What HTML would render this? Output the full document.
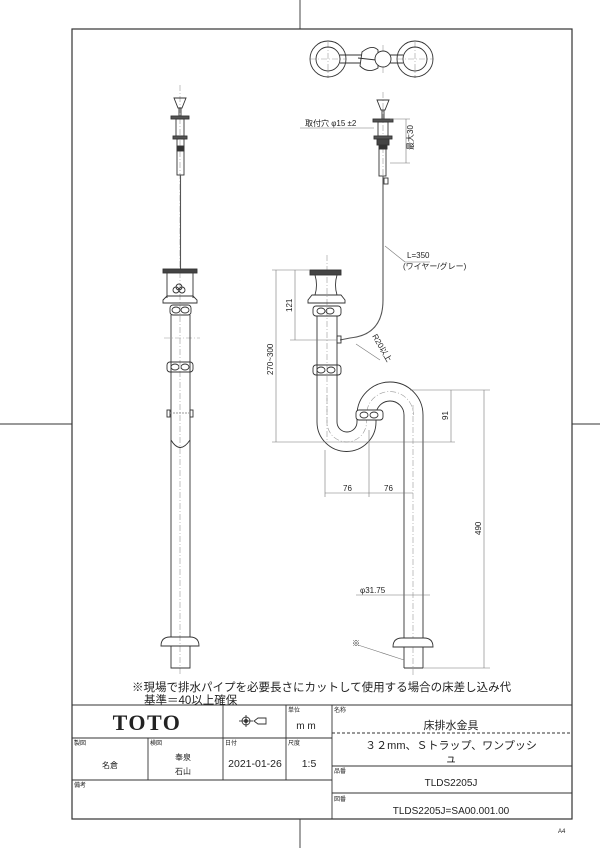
<!DOCTYPE html>
<html><head><meta charset="utf-8"><style>
html,body{margin:0;padding:0;background:#fff;}
svg{display:block;}
text{font-family:"Liberation Sans","Noto Sans CJK JP",sans-serif;fill:#222;}
</style></head><body>
<svg width="600" height="848" viewBox="0 0 600 848" xmlns="http://www.w3.org/2000/svg">
<g stroke="#333" fill="none" stroke-width="0.9">
<rect x="72" y="29" width="500" height="790" stroke-width="1.2"/>
<line x1="300" y1="0" x2="300" y2="29"/>
<line x1="300" y1="819" x2="300" y2="848"/>
<line x1="0" y1="424" x2="72" y2="424"/>
<line x1="572" y1="424" x2="600" y2="424"/>
<line x1="72" y1="705" x2="572" y2="705" stroke-width="1.1"/>
<line x1="72" y1="738" x2="332" y2="738"/>
<line x1="72" y1="780" x2="332" y2="780"/>
<line x1="332" y1="705" x2="332" y2="819"/>
<line x1="223" y1="705" x2="223" y2="780"/>
<line x1="286" y1="705" x2="286" y2="780"/>
<line x1="148" y1="738" x2="148" y2="780"/>
<line x1="332" y1="733" x2="572" y2="733" stroke-dasharray="3,2"/>
<line x1="332" y1="766" x2="572" y2="766"/>
<line x1="332" y1="793" x2="572" y2="793"/>
<circle cx="246" cy="721" r="4"/><circle cx="246" cy="721" r="1.5" fill="#333"/>
<line x1="239" y1="721" x2="253" y2="721"/><line x1="246" y1="715" x2="246" y2="727"/>
<path d="M254 721 L258 718 L266 718 L266 724 L258 724 Z"/>

<g stroke="#999" stroke-dasharray="6,2,1,2" stroke-width="0.6">
<line x1="180" y1="85" x2="180" y2="675"/>
<line x1="327" y1="255" x2="327" y2="440"/>
<line x1="383" y1="92" x2="383" y2="180"/>
<line x1="413" y1="405" x2="413" y2="675"/>
<line x1="328" y1="42" x2="328" y2="78"/><line x1="310" y1="59" x2="346" y2="59"/>
<line x1="415" y1="42" x2="415" y2="78"/><line x1="397" y1="59" x2="433" y2="59"/>
<line x1="383" y1="45" x2="383" y2="74"/>
<line x1="164" y1="338" x2="200" y2="338"/>
<path d="M366.5 422 L366.5 415 A23.5 23.5 0 0 1 413.5 415"/>
<path d="M327 395 L327 422 A20 20 0 0 0 347 442 A20 20 0 0 0 366.5 422"/>
</g>

<path d="M174 98 L186 98 L182 108 L178 108 Z"/>
<line x1="179" y1="108" x2="179" y2="117"/><line x1="181" y1="108" x2="181" y2="117"/>
<rect x="171" y="116" width="18" height="3" fill="#555"/>
<rect x="176" y="119" width="8" height="17"/>
<rect x="173" y="136" width="14" height="3" fill="#555"/>
<rect x="177" y="139" width="7" height="36"/>
<rect x="177" y="146" width="7" height="5" fill="#333"/>
<line x1="180.5" y1="175" x2="180.5" y2="270" stroke-width="1.1" stroke="#555"/>
<rect x="163" y="269" width="34" height="4" fill="#444"/>
<path d="M167 273 L167 298 M193 273 L193 298"/>
<circle cx="176" cy="290" r="3"/><circle cx="182" cy="290" r="3"/><circle cx="179" cy="287" r="3"/>
<path d="M163 300 L167 296 L193 296 L197 300 L197 303 L163 303 Z"/>
<rect x="170" y="305" width="21" height="10" rx="3"/>
<ellipse cx="176" cy="310" rx="4" ry="3"/><ellipse cx="185" cy="310" rx="4" ry="3"/>
<line x1="171" y1="315" x2="171" y2="637"/><line x1="190" y1="315" x2="190" y2="637"/>
<rect x="167" y="362" width="26" height="10" rx="3"/>
<ellipse cx="175" cy="367" rx="4" ry="3"/><ellipse cx="185" cy="367" rx="4" ry="3"/>
<rect x="167" y="410" width="3" height="7"/><rect x="190" y="410" width="3" height="7"/>
<line x1="170" y1="413" x2="190" y2="413" stroke="#999" stroke-dasharray="2,1"/>
<path d="M171 440 Q180 455 190 440"/>
<path d="M161 646 Q161 637 170 637 L190 637 Q199 637 199 646 Z"/>
<path d="M171 646 L171 668 L190 668 L190 646"/>

<circle cx="328" cy="59" r="18"/><circle cx="328" cy="59" r="12"/>
<circle cx="415" cy="59" r="18"/><circle cx="415" cy="59" r="12"/>
<path d="M340 55 L403 55 M340 63 L403 63"/>
<path d="M362 52 Q372 44 378 50 L378 68 Q368 74 360 66 Z" fill="#fff"/>
<line x1="358" y1="58" x2="376" y2="60"/>
<circle cx="383" cy="59" r="8" fill="#fff"/>

<path d="M377 100 L389 100 L385 110 L381 110 Z"/>
<line x1="382" y1="110" x2="382" y2="119"/><line x1="384" y1="110" x2="384" y2="119"/>
<rect x="373" y="119" width="20" height="3" fill="#555"/>
<rect x="378" y="122" width="10" height="14"/>
<rect x="374" y="136" width="18" height="3" fill="#555"/>
<rect x="377" y="139" width="12" height="6" fill="#444"/>
<rect x="379" y="145" width="8" height="4" fill="#333"/>
<rect x="379" y="149" width="7" height="27"/>
<rect x="384" y="178" width="4" height="6"/>
<path d="M383 176 L383 300 Q383 335 350 338 L340 340" stroke-width="1.1" stroke="#555"/>
<rect x="337" y="336" width="4" height="7"/>

<rect x="310" y="270" width="31" height="5" fill="#444"/>
<path d="M315 275 Q318 285 315 295 M337 275 Q334 285 337 295"/>
<path d="M308 300 L312 295 L341 295 L345 300 L345 303 L308 303 Z"/>
<rect x="313" y="306" width="28" height="10" rx="3"/>
<ellipse cx="321" cy="311" rx="4" ry="3"/><ellipse cx="330" cy="311" rx="4" ry="3"/>
<line x1="317" y1="316" x2="317" y2="422"/><line x1="337" y1="316" x2="337" y2="422"/>
<rect x="313" y="365" width="28" height="10" rx="3"/>
<ellipse cx="321" cy="370" rx="4" ry="3"/><ellipse cx="331" cy="370" rx="4" ry="3"/>
<path d="M317 422 A29 29 0 0 0 376 422"/>
<path d="M337 422 A10 10 0 0 0 357 422"/>
<path d="M357 422 L357 415 A33 33 0 0 1 423 415 L423 668"/>
<path d="M376 422 L376 415 A14 14 0 0 1 404 415 L404 668"/>
<rect x="356" y="410" width="27" height="10" rx="3" fill="#fff"/>
<ellipse cx="364" cy="415" rx="4" ry="3"/><ellipse cx="374" cy="415" rx="4" ry="3"/>
<path d="M393 647 Q393 638 402 638 L424 638 Q433 638 433 647 Z" fill="#fff"/>
<line x1="404" y1="668" x2="423" y2="668"/>

<g stroke="#777" stroke-width="0.6">
<line x1="300" y1="128" x2="374" y2="128"/>
<line x1="390" y1="119" x2="410" y2="119"/><line x1="390" y1="163" x2="410" y2="163"/>
<line x1="406" y1="119" x2="406" y2="163"/>
<line x1="385" y1="246" x2="405" y2="262"/><line x1="405" y1="262" x2="430" y2="262"/>
<line x1="272" y1="270" x2="310" y2="270"/>
<line x1="290" y1="340" x2="337" y2="340"/>
<line x1="295" y1="270" x2="295" y2="340"/>
<line x1="276" y1="270" x2="276" y2="442"/>
<line x1="272" y1="442" x2="455" y2="442"/>
<line x1="410" y1="390" x2="490" y2="390"/>
<line x1="451" y1="390" x2="451" y2="442"/>
<line x1="484" y1="390" x2="484" y2="668"/>
<line x1="423" y1="668" x2="490" y2="668"/>
<line x1="325" y1="450" x2="325" y2="497"/><line x1="369" y1="430" x2="369" y2="497"/>
<line x1="325" y1="493" x2="413" y2="493"/>
<line x1="356" y1="595" x2="430" y2="595"/>
<line x1="358" y1="645" x2="404" y2="660"/>
<line x1="356" y1="344" x2="380" y2="360"/>
</g>
</g>

<g font-size="8">
<text x="305" y="126">取付穴 φ15  ±2</text>
<text x="0" y="0" transform="translate(413,150) rotate(-90)">最大30</text>
<text x="407" y="258">L=350</text>
<text x="403" y="269">(ワイヤー/グレー)</text>
<text x="0" y="0" transform="translate(292,312) rotate(-90)">121</text>
<text x="0" y="0" transform="translate(273,375) rotate(-90)">270~300</text>
<text x="0" y="0" transform="translate(372,336) rotate(60)">R20以上</text>
<text x="0" y="0" transform="translate(448,420) rotate(-90)">91</text>
<text x="0" y="0" transform="translate(481,535) rotate(-90)">490</text>
<text x="343" y="491">76</text>
<text x="384" y="491">76</text>
<text x="360" y="593">φ31.75</text>
<text x="352" y="646">※</text>
</g>

<text x="132" y="691" font-size="11.5">※現場で排水パイプを必要長さにカットして使用する場合の床差し込み代</text>
<text x="144" y="704" font-size="11.5">基準＝40以上確保</text>
<text x="147" y="730" font-size="22" font-weight="bold" text-anchor="middle" style="font-family:'Liberation Serif',serif" letter-spacing="1.5">TOTO</text>
<g font-size="6">
<text x="288" y="712">単位</text><text x="334" y="712">名称</text>
<text x="74" y="745">製図</text><text x="150" y="745">検図</text>
<text x="225" y="745">日付</text><text x="288" y="745">尺度</text>
<text x="74" y="787">備考</text><text x="334" y="773">品番</text><text x="334" y="801">図番</text>
<text x="558" y="833">A4</text>
</g>
<text x="306" y="729" font-size="10" text-anchor="middle">m m</text>
<text x="451" y="729" font-size="11" text-anchor="middle">床排水金具</text>
<text x="451" y="749" font-size="11" text-anchor="middle">３２mm、Ｓトラップ、ワンプッシ</text>
<text x="451" y="762" font-size="11" text-anchor="middle">ュ</text>
<text x="451" y="786" font-size="10" text-anchor="middle">TLDS2205J</text>
<text x="451" y="814" font-size="10" text-anchor="middle">TLDS2205J=SA00.001.00</text>
<text x="110" y="768" font-size="8" text-anchor="middle">名倉</text>
<text x="183" y="760" font-size="8" text-anchor="middle">奉泉</text>
<text x="183" y="774" font-size="8" text-anchor="middle">石山</text>
<text x="255" y="767" font-size="10.5" text-anchor="middle">2021-01-26</text>
<text x="309" y="767" font-size="10.5" text-anchor="middle">1:5</text>
</svg>
</body></html>
